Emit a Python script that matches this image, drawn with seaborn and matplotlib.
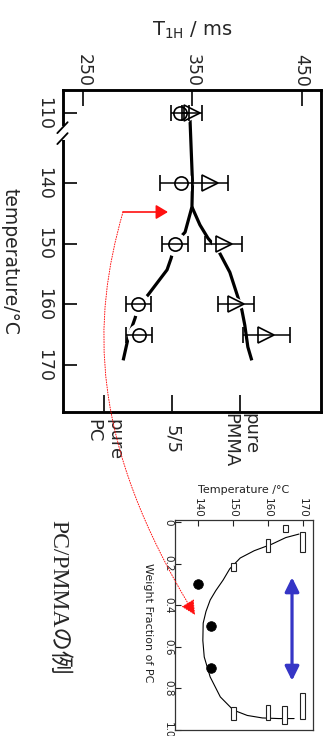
import numpy as np
import matplotlib
matplotlib.use("Agg")
import matplotlib.pyplot as plt
import matplotlib.transforms as mtransforms
from matplotlib.patches import FancyArrowPatch, Rectangle
from matplotlib.path import Path
from matplotlib.lines import Line2D
import seaborn as sns

# ---------------- T1H of the 5/5 PC/PMMA blend ----------------
temps = [110, 140, 150, 160, 165]
t1h_pc = [338.6, 339.5, 334.0, 300.2, 301.0]
t1h_pc_err_lo = [8, 19, 12, 11.5, 11.5]
t1h_pc_err_hi = [8, 10, 12, 11.5, 11.5]
t1h_pmma = [349.5, 366.0, 378.8, 389.7, 417.6]
t1h_pmma_err = [9, 16.5, 17, 16.5, 21.5]

# hand-drawn guide curves (single phase, then PC-rich / PMMA-rich branches)
guide_pc_temp = [110, 140, 143.95, 148.1, 149.9, 152.4, 154.3, 158.4, 160.3, 162.2, 165.5, 169.2]
guide_pc_t1h = [347.5, 350.0, 349.5, 343.2, 334.0, 330.4, 326.7, 309.4, 300.2, 297.5, 291.1, 286.5]
guide_pmma_temp = [143.95, 146.9, 149.1, 151.0, 154.7, 158.8, 160.9, 163.4, 167.0, 169.2]
guide_pmma_t1h = [349.5, 356.8, 364.2, 373.3, 384.2, 391.6, 395.2, 397.9, 400.7, 404.3]

t1h_ticks = [250, 350, 450]
temp_ticks = [110, 140, 150, 160, 170]
blend_ticks = [268.6, 331.1, 393.9]
blend_labels = ["pure\nPC", "5/5", "pure\nPMMA"]

# ---------------- phase diagram ----------------
cloud_temp = [140.0, 143.6, 143.6]
cloud_w = [0.30, 0.50, 0.70]
box_temp = [150.1, 159.9, 165.0, 169.7, 150.1, 159.9, 164.6, 169.7]
box_w_lo = [0.196, 0.083, 0.014, 0.047, 0.888, 0.881, 0.885, 0.820]
box_w_hi = [0.234, 0.146, 0.050, 0.146, 0.952, 0.952, 0.971, 0.949]
binodal_temp = [168.8, 165.0, 161.1, 156.0, 152.0, 149.0, 147.1, 145.0, 143.4, 142.2, 141.4,
                141.3, 141.7, 143.4, 146.3, 150.0, 154.0, 158.3, 163.0, 167.4]
binodal_w = [0.058, 0.075, 0.106, 0.138, 0.173, 0.225, 0.279, 0.330, 0.375, 0.430, 0.486,
             0.570, 0.649, 0.745, 0.841, 0.904, 0.930, 0.942, 0.945, 0.945]
pd_temp_ticks = [140, 150, 160, 170]
pd_w_ticks = [0, 0.2, 0.4, 0.6, 0.8, 1.0]
pd_w_labels = ["0", "0.2", "0.4", "0.6", "0.8", "1.0"]
range_temp = 166.8
range_w = [0.266, 0.763]

sns.set_style("white")
plt.rcParams["font.family"] = ["DejaVu Sans"]
plt.rcParams["mathtext.default"] = "regular"

W, H = 326, 736
fig = plt.figure(figsize=(W / 100, H / 100), dpi=100)


def tpos(t):
    """Temperature -> plotting position with the axis break below 140 °C."""
    t = np.asarray(t, dtype=float)
    return np.where(t < 135, t + 18.5, t)


def fx(px):
    return px / W


def fy(py):
    return 1 - py / H


# ================= upper chart =================
ax = fig.add_axes([fx(63), fy(412), (321 - 63) / W, (412 - 90) / H])
ax2 = ax.twiny()          # carries the blend composition ticks along the bottom
ax.set_xlim(231.4, 467.7)
ax.set_ylim(177.7, 124.7)
ax2.set_xlim(ax.get_xlim())

line_kw = dict(sort=False, estimator=None, color="black", lw=2.3, ax=ax, legend=False)
sns.lineplot(x=guide_pc_t1h, y=tpos(guide_pc_temp), **line_kw)
sns.lineplot(x=guide_pmma_t1h, y=tpos(guide_pmma_temp), **line_kw)
for ln in ax.lines:
    ln.set_solid_capstyle("butt")
    ln.set_zorder(1)

ypos = tpos(temps)
# white halos open gaps in the guide curves around each symbol
ax.plot(t1h_pc, ypos, "o", ms=17, mfc="white", mec="none", zorder=2)
ax.plot(t1h_pmma, ypos, ">", ms=18, mfc="white", mec="none", zorder=2)
ax.errorbar(t1h_pc, ypos, xerr=[t1h_pc_err_lo, t1h_pc_err_hi], fmt="o", ms=9.5,
            mfc="none", mec="black", mew=1.2, ecolor="black", elinewidth=1.1,
            capsize=5.5, capthick=1.1, zorder=4)
ax.errorbar(t1h_pmma, ypos, xerr=t1h_pmma_err, fmt=">", ms=11.5,
            mfc="none", mec="black", mew=1.2, ecolor="black", elinewidth=1.1,
            capsize=5.5, capthick=1.1, zorder=4)

ax.xaxis.set_ticks_position("top")
ax.xaxis.set_label_position("top")
ax.set_xticks(t1h_ticks)
ax.set_xticklabels([str(v) for v in t1h_ticks], rotation=270)
ax.tick_params(axis="x", direction="in", length=11.5, width=1.4, pad=2,
               labelsize=12.5, top=True, bottom=False, labeltop=True, labelbottom=False)
ax.set_yticks(tpos(temp_ticks))
ax.set_yticklabels([str(v) for v in temp_ticks], rotation=270, va="center")
ax.tick_params(axis="y", direction="in", length=10, width=1.4, pad=7,
               labelsize=12.5, left=True, right=False)
ax.set_xlabel(r"T$_{\mathregular{1H}}$ / ms", fontsize=14, labelpad=13)
ax.set_ylabel("temperature/°C", fontsize=13.5, rotation=270, ha="center", va="center")
ax.yaxis.set_label_coords(-0.205, 0.469)

ax2.xaxis.set_ticks_position("bottom")
ax2.xaxis.set_label_position("bottom")
ax2.set_xticks(blend_ticks)
ax2.set_xticklabels(blend_labels, rotation=270)
ax2.tick_params(axis="x", direction="in", length=12, width=1.4, pad=20, labelsize=13,
                bottom=True, top=False, labelbottom=True, labeltop=False)
for lab in ax2.get_xticklabels():
    lab.set_verticalalignment("center")
    lab.set_multialignment("left")

for a in (ax, ax2):
    for sp in a.spines.values():
        sp.set_linewidth(1.8)
        sp.set_color("black")

# axis break on the temperature axis
brk = mtransforms.blended_transform_factory(ax.transAxes, ax.transData)
ax2.add_patch(Rectangle((-0.02, 130.6), 0.04, 2.4, transform=brk, facecolor="white",
                        edgecolor="none", clip_on=False, zorder=10))
for yc in (130.9, 132.7):
    ax2.add_line(Line2D([-0.022, 0.018], [yc + 0.9, yc - 0.9], transform=brk,
                        color="black", lw=1.3, clip_on=False, zorder=11))

# ================= phase diagram =================
ax3 = fig.add_axes([fx(175), fy(730), (313 - 175) / W, (730 - 520) / H])
ax3.set_xlim(133.34, 172.8)
ax3.set_ylim(1.0, -0.0096)

sns.lineplot(x=binodal_temp, y=binodal_w, sort=False, estimator=None, color="black",
             lw=0.8, ax=ax3, legend=False)
ax3.bar(box_temp, np.array(box_w_hi) - np.array(box_w_lo), bottom=box_w_lo, width=1.35,
        facecolor="white", edgecolor="#222222", lw=0.8, zorder=3)
sns.scatterplot(x=cloud_temp, y=cloud_w, color="black", s=48, edgecolor="black",
                ax=ax3, zorder=4, legend=False)
ax3.annotate("", xy=(range_temp, range_w[0]), xytext=(range_temp, range_w[1]),
             arrowprops=dict(arrowstyle="<|-|>,head_length=0.85,head_width=0.42",
                             mutation_scale=10, color="#3535c6", lw=2.3,
                             shrinkA=0, shrinkB=0), zorder=5)

ax3.xaxis.tick_top()
ax3.set_xticks(pd_temp_ticks)
ax3.set_xticklabels([str(v) for v in pd_temp_ticks], rotation=270)
ax3.tick_params(axis="x", direction="in", length=4, width=0.8, pad=1.5, labelsize=7.5,
                top=True, bottom=False, labeltop=True, labelbottom=False, colors="#222222")
ax3.set_yticks(pd_w_ticks)
ax3.set_yticklabels(pd_w_labels, rotation=270, va="center")
ax3.tick_params(axis="y", direction="in", length=4, width=0.8, pad=1.5, labelsize=7.5,
                left=True, right=False, colors="#222222")
ax3.xaxis.set_label_position("top")
ax3.set_xlabel("Temperature /°C", fontsize=8, labelpad=4, color="#222222")
ax3.set_ylabel("Weight Fraction of PC", fontsize=8, rotation=270, ha="center",
               va="center", color="#222222")
ax3.yaxis.set_label_coords(-0.196, 0.51)
for sp in ax3.spines.values():
    sp.set_linewidth(0.9)
    sp.set_color("#333333")

# ================= annotations =================
fig.add_artist(FancyArrowPatch((fx(123), fy(212)), (fx(168), fy(212)),
                               transform=fig.transFigure,
                               arrowstyle="-|>,head_length=0.72,head_width=0.43",
                               mutation_scale=10, color="#ff1010", lw=1.2,
                               shrinkA=0, shrinkB=0))
link = Path([(fx(123), fy(212)), (fx(92), fy(320)), (fx(88), fy(440)), (fx(195), fy(615))],
            [Path.MOVETO, Path.CURVE4, Path.CURVE4, Path.CURVE4])
fig.add_artist(FancyArrowPatch(path=link, transform=fig.transFigure,
                               arrowstyle="-|>,head_length=0.9,head_width=0.45",
                               mutation_scale=10, color="#ff1010", lw=0.7,
                               linestyle=(0, (1, 1.6)), shrinkA=0, shrinkB=0))

fig.text(fx(58), fy(597), "PC/PMMAの例", rotation=270, ha="center", va="center",
         fontsize=17, family=["Liberation Serif", "Noto Sans CJK JP"])

fig.savefig("out.png", dpi=100, facecolor="white")
